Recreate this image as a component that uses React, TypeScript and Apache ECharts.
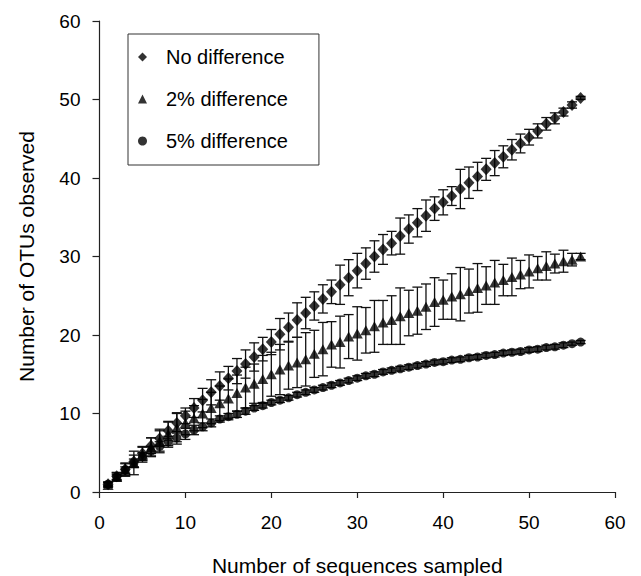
import React, { useEffect, useRef } from "react";
import * as echarts from "echarts";

const samples = [1, 2, 3, 4, 5, 6, 7, 8, 9, 10, 11, 12, 13, 14, 15, 16, 17, 18, 19, 20,
  21, 22, 23, 24, 25, 26, 27, 28, 29, 30, 31, 32, 33, 34, 35, 36, 37, 38, 39, 40,
  41, 42, 43, 44, 45, 46, 47, 48, 49, 50, 51, 52, 53, 54, 55, 56];

const noDiff = [1.0, 2.0, 2.9, 3.9, 4.9, 5.9, 6.8, 7.8, 8.8, 9.7, 10.7, 11.7, 12.7, 13.5, 14.5, 15.4, 16.3, 17.2, 18.2, 19.1,
  20.1, 21.0, 21.9, 22.8, 23.7, 24.6, 25.5, 26.4, 27.3, 28.2, 29.1, 30.0, 30.9, 31.7, 32.6, 33.5, 34.3, 35.2, 36.1, 36.9,
  37.7, 38.6, 39.4, 40.2, 41.1, 41.9, 42.7, 43.6, 44.4, 45.2, 46.0, 46.9, 47.6, 48.4, 49.3, 50.2];
const noDiffErr = [0.3, 0.5, 0.8, 0.8, 0.8, 1.0, 1.0, 1.2, 1.3, 1.0, 1.2, 1.5, 1.6, 1.8, 1.5, 1.6, 1.8, 1.8, 1.5, 1.6,
  2.0, 1.8, 2.2, 2.0, 1.8, 1.8, 1.5, 2.5, 2.3, 2.2, 2.0, 2.0, 1.9, 1.5, 2.3, 1.8, 1.8, 2.0, 1.5, 1.6,
  1.2, 2.5, 2.0, 1.8, 1.4, 1.6, 1.4, 1.3, 1.2, 1.0, 0.9, 0.8, 0.7, 0.5, 0.4, 0.2];

const diff2 = [0.9, 1.9, 2.8, 3.7, 4.8, 5.7, 6.5, 7.4, 8.2, 8.8, 9.4, 10.0, 10.7, 11.3, 11.9, 12.6, 13.3, 13.8, 14.4, 15.0,
  15.6, 16.1, 16.5, 16.9, 17.6, 18.2, 18.8, 19.1, 19.8, 20.2, 20.6, 21.1, 21.6, 21.9, 22.4, 22.8, 23.1, 23.6, 24.2, 24.5,
  24.9, 25.2, 25.6, 26.0, 26.3, 26.7, 27.0, 27.4, 27.7, 28.1, 28.5, 28.8, 29.1, 29.4, 29.6, 30.0];
const diff2Err = [0.3, 0.5, 0.8, 1.5, 1.0, 1.2, 1.5, 1.5, 1.8, 1.5, 1.6, 1.8, 2.0, 2.2, 2.5, 2.3, 2.6, 2.5, 3.0, 2.8,
  3.2, 3.0, 3.2, 3.4, 3.0, 3.4, 2.9, 3.3, 2.8, 3.4, 2.9, 3.3, 2.8, 3.1, 3.6, 2.9, 3.0, 2.9, 3.1, 2.5,
  2.9, 3.4, 2.8, 3.1, 2.4, 2.8, 2.0, 2.4, 1.8, 2.1, 1.5, 1.8, 1.2, 1.4, 0.8, 0.4];

const diff5 = [1.0, 1.9, 2.8, 3.7, 4.5, 5.2, 5.8, 6.4, 6.9, 7.4, 7.9, 8.3, 8.8, 9.3, 9.6, 9.9, 10.3, 10.7, 11.0, 11.4,
  11.7, 12.0, 12.4, 12.7, 13.0, 13.3, 13.6, 13.9, 14.2, 14.5, 14.8, 15.0, 15.3, 15.5, 15.7, 15.9, 16.1, 16.3, 16.5, 16.6,
  16.8, 16.9, 17.1, 17.2, 17.4, 17.5, 17.7, 17.8, 17.9, 18.1, 18.2, 18.4, 18.5, 18.7, 18.9, 19.1];
const diff5Err = [0.2, 0.3, 0.4, 0.5, 0.5, 0.6, 0.6, 0.7, 0.8, 0.7, 0.6, 0.5, 0.5, 0.4, 0.4, 0.4, 0.4, 0.3, 0.3, 0.3,
  0.3, 0.3, 0.3, 0.3, 0.3, 0.3, 0.3, 0.3, 0.3, 0.3, 0.3, 0.3, 0.3, 0.3, 0.3, 0.3, 0.3, 0.3, 0.3, 0.3,
  0.3, 0.3, 0.3, 0.3, 0.3, 0.3, 0.3, 0.3, 0.3, 0.3, 0.3, 0.3, 0.3, 0.3, 0.2, 0.2];

const seriesNames = ["No difference", "2% difference", "5% difference"];
const xTicks = { min: 0, max: 60, interval: 10 };
const yTicks = { min: 0, max: 60, interval: 10 };

const FONT = "Liberation Sans, Arial, sans-serif";
const INK = "#000";

function errData(vals: number[], errs: number[]) {
  return vals.map((v, i) => [samples[i], v - errs[i], v + errs[i]]);
}
function ptData(vals: number[]) {
  return vals.map((v, i) => [samples[i], v]);
}

function errSeries(vals: number[], errs: number[]) {
  return {
    type: "custom",
    data: errData(vals, errs),
    encode: { x: 0, y: [1, 2] },
    z: 2,
    silent: true,
    renderItem: (params: any, api: any) => {
      const x = api.value(0);
      const lo = api.value(1);
      const hi = api.value(2);
      const pTop = api.coord([x, hi]);
      const pBot = api.coord([x, lo]);
      const hw = 5;
      const st = { stroke: "#111", lineWidth: 1.3 };
      return {
        type: "group",
        children: [
          { type: "line", shape: { x1: pTop[0], y1: pTop[1], x2: pBot[0], y2: pBot[1] }, style: st },
          { type: "line", shape: { x1: pTop[0] - hw, y1: pTop[1], x2: pTop[0] + hw, y2: pTop[1] }, style: st },
          { type: "line", shape: { x1: pBot[0] - hw, y1: pBot[1], x2: pBot[0] + hw, y2: pBot[1] }, style: st },
        ],
      };
    },
  };
}

export default function App() {
  const ref = useRef<HTMLDivElement>(null);
  useEffect(() => {
    if (!ref.current) return;
    const chart = echarts.init(ref.current, undefined, { renderer: "svg" });
    chart.setOption({
      animation: false,
      backgroundColor: "#fff",
      textStyle: { fontFamily: FONT, color: INK },
      grid: { left: 99.5, right: 26, top: 21, bottom: 84, containLabel: false, outerBoundsMode: "none" },
      legend: {
        data: seriesNames,
        orient: "vertical",
        left: 128,
        top: 34,
        itemWidth: 9,
        itemHeight: 9,
        itemGap: 22,
        padding: [13, 31, 14, 10],
        borderColor: "#333",
        borderWidth: 1,
        textStyle: { fontSize: 20, color: INK, fontFamily: FONT, padding: [0, 0, 0, 14] },
      },
      xAxis: {
        type: "value",
        ...xTicks,
        name: "Number of sequences sampled",
        nameLocation: "middle",
        nameGap: 63,
        nameTextStyle: { fontSize: 21, color: INK, fontFamily: FONT },
        axisLine: { lineStyle: { color: "#222", width: 1.2 } },
        axisTick: { show: true, length: 6, lineStyle: { color: "#222", width: 1.2 } },
        axisLabel: { fontSize: 19, color: INK, margin: 21, fontFamily: FONT },
        splitLine: { show: false },
      },
      yAxis: {
        type: "value",
        ...yTicks,
        name: "Number of OTUs observed",
        nameLocation: "middle",
        nameGap: 63,
        nameTextStyle: { fontSize: 21, color: INK, fontFamily: FONT },
        axisLine: { show: true, lineStyle: { color: "#222", width: 1.2 } },
        axisTick: { show: true, length: 7, lineStyle: { color: "#222", width: 1.2 } },
        axisLabel: { fontSize: 19, color: INK, margin: 19, fontFamily: FONT },
        splitLine: { show: false },
      },
      series: [
        errSeries(noDiff, noDiffErr),
        errSeries(diff2, diff2Err),
        errSeries(diff5, diff5Err),
        {
          name: seriesNames[0],
          type: "scatter",
          symbol: "diamond",
          symbolSize: [11, 12],
          itemStyle: { color: "#000" },
          data: ptData(noDiff),
          z: 5,
        },
        {
          name: seriesNames[1],
          type: "scatter",
          symbol: "triangle",
          symbolSize: [11, 10],
          itemStyle: { color: "#000" },
          data: ptData(diff2),
          z: 5,
        },
        {
          name: seriesNames[2],
          type: "scatter",
          symbol: "circle",
          symbolSize: 9,
          itemStyle: { color: "#000" },
          data: ptData(diff5),
          z: 5,
        },
      ],
    });
    return () => chart.dispose();
  }, []);
  return (
    <div
      ref={ref}
      style={{ position: "fixed", left: 0, top: 0, width: 641, height: 576, background: "#fff" }}
    />
  );
}
